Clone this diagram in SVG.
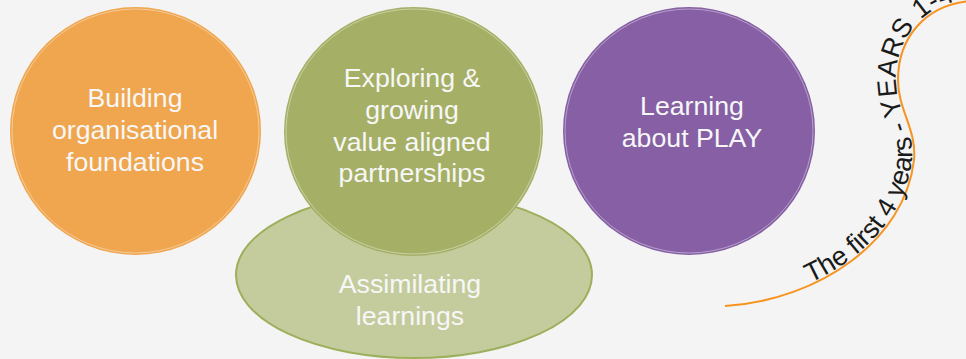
<svg xmlns="http://www.w3.org/2000/svg" width="966" height="359" viewBox="0 0 966 359">
<style>
.lbl{font-family:"Liberation Sans",Arial,sans-serif;font-size:26.7px;fill:#f7f7f7;text-anchor:middle}
.arc{font-family:"Liberation Sans",Arial,sans-serif;font-size:27px;fill:#1a1a1a}
.ring{fill:none;stroke:#ffffff;stroke-opacity:0.4;stroke-width:1}
</style>
<defs>
<path id="curve" d="M725,306 C820,300 905,240 914,160 C917,130 898,110 898,80 C898,38 925,5 970,1 L1100,-20"/>
</defs>
<rect width="966" height="359" fill="#f4f4f4"/>
<g id="connectors">
<path d="M725,306 C820,300 905,240 914,160 C917,130 898,110 898,80 C898,38 925,5 970,1" fill="none" stroke="#f7931e" stroke-width="2"/>
<text class="arc" dy="-2"><textPath href="#curve" startOffset="89">The first 4 years - YEARS 1-4</textPath></text>
</g>
<g id="node-building">
<ellipse cx="135.5" cy="131" rx="125.5" ry="124" fill="#efa64f"/>
<ellipse cx="135.5" cy="131" rx="123.5" ry="122" class="ring"/>
<text class="lbl" x="135" y="107">Building</text>
<text class="lbl" x="135" y="139">organisational</text>
<text class="lbl" x="135" y="171">foundations</text>
</g>
<g id="node-assimilating">
<ellipse cx="414" cy="275" rx="178" ry="83" fill="#c4cc9e" stroke="#9caf5b" stroke-width="2"/>
<text class="lbl" x="410" y="293">Assimilating</text>
<text class="lbl" x="410" y="325">learnings</text>
</g>
<g id="node-exploring">
<ellipse cx="413.5" cy="131.5" rx="129.5" ry="124.5" fill="#a5b066"/>
<ellipse cx="413.5" cy="131.5" rx="127.5" ry="122.5" class="ring"/>
<text class="lbl" x="412" y="87">Exploring &amp;</text>
<text class="lbl" x="412" y="119">growing</text>
<text class="lbl" x="412" y="151">value aligned</text>
<text class="lbl" x="412" y="182">partnerships</text>
</g>
<g id="node-play">
<ellipse cx="689" cy="131" rx="126" ry="124" fill="#865fa5"/>
<ellipse cx="689" cy="131" rx="124" ry="122" class="ring"/>
<text class="lbl" x="692" y="115">Learning</text>
<text class="lbl" x="692" y="147">about PLAY</text>
</g>
</svg>
